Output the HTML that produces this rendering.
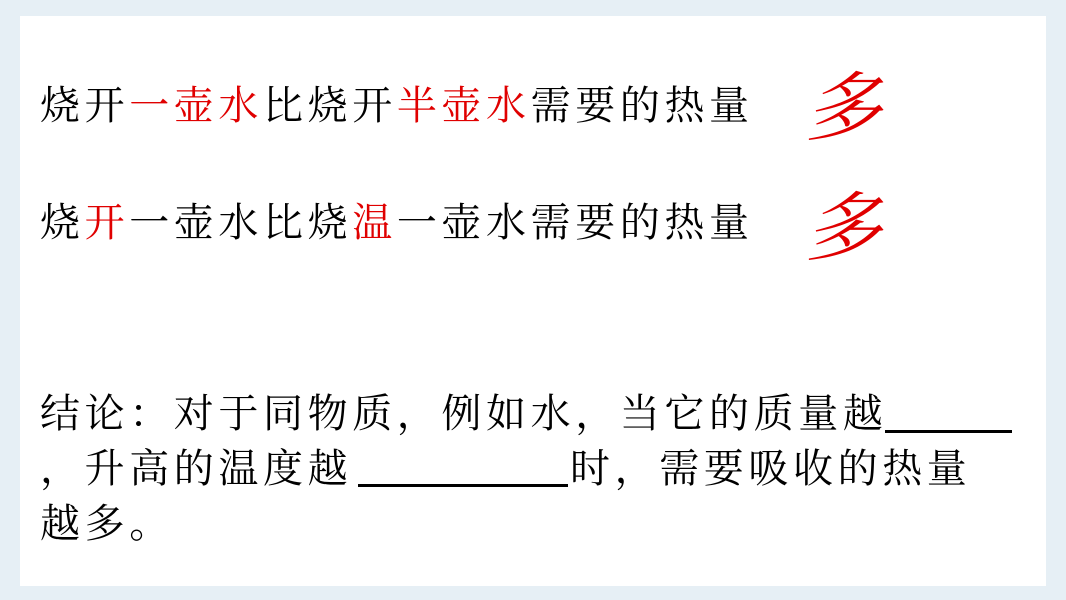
<!DOCTYPE html>
<html><head><meta charset="utf-8"><style>
body{margin:0;width:1066px;height:600px;background:#e6eff5;position:relative;overflow:hidden}
.panel{position:absolute;left:20px;top:16px;width:1026px;height:570px;background:#fff}
.t{position:absolute;left:40px;font-family:"Liberation Serif","Noto Serif CJK SC",serif;font-size:40px;letter-spacing:4.6px;color:#000;white-space:nowrap;line-height:1}
.r{color:#e00000}
.duo{position:absolute;font-family:"Noto Serif CJK SC",serif;font-size:76px;color:#e00000;line-height:1;font-style:italic}
.u{position:absolute;height:3px;background:#000}
</style></head><body>
<div class="panel"></div>
<div class="t" style="top:86px">烧开<span class="r">一壶水</span>比烧开<span class="r">半壶水</span>需要的热量</div>
<div class="t" style="top:203px">烧<span class="r">开</span>一壶水比烧<span class="r">温</span>一壶水需要的热量</div>
<div class="duo" style="left:805px;top:64px">多</div>
<div class="duo" style="left:805px;top:184px">多</div>
<div class="t" style="top:394px">结论：对于同物质，例如水，当它的质量越</div>
<div class="u" style="left:885px;top:430px;width:127px"></div>
<div class="t" style="top:449px">，升高的温度越</div>
<div class="u" style="left:358px;top:484px;width:210px"></div>
<div class="t" style="top:449px;left:570px">时，需要吸收的热量</div>
<div class="t" style="top:504px">越多。</div>
</body></html>
